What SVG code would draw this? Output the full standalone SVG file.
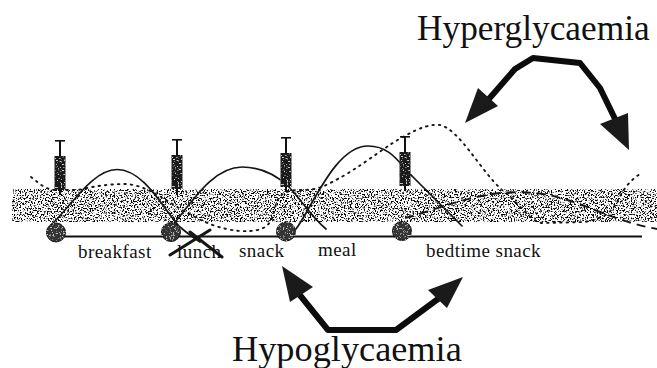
<svg xmlns="http://www.w3.org/2000/svg" width="657" height="368" viewBox="0 0 657 368">
<style>
.t{font-family:"Liberation Serif","Times New Roman",serif;fill:#111}
.big{font-size:35.300px}
.big2{font-size:36.300px}
.sm{font-size:19px;letter-spacing:.45px}
.c{fill:none;stroke:#151515;stroke-width:1.7;stroke-linecap:round;stroke-linejoin:round}
.dot{stroke-width:1.9;stroke-dasharray:1.5 5}
.dash{stroke-width:1.9;stroke-dasharray:9 6;stroke-linecap:butt}
.x{stroke-width:3}
.shaft{fill:none;stroke:#0c0c0c;stroke-width:6;stroke-linejoin:round}
.head{fill:#1a1a1a}
.mealdot{fill:#333;stroke:#111;stroke-width:1;filter:url(#g)}
.bar{fill:#111}
.s{fill:#1a1a1a;filter:url(#b)}
</style>
<defs>
<filter id="n" x="0" y="0" width="1" height="1" color-interpolation-filters="sRGB">
<feTurbulence type="fractalNoise" baseFrequency="0.7" numOctaves="2" seed="7" result="t"/>
<feColorMatrix in="t" type="matrix" values="0 0 0 0 0 0 0 0 0 0 0 0 0 0 0 9 0 0 0 -4.6"/>
<feComposite in2="SourceAlpha" operator="in"/>
</filter>
<filter id="g" x="-10%" y="-10%" width="120%" height="120%" color-interpolation-filters="sRGB">
<feTurbulence type="fractalNoise" baseFrequency="0.6" numOctaves="2" seed="3" result="t"/>
<feColorMatrix in="t" type="matrix" values="0 0 0 0 .75 0 0 0 0 .75 0 0 0 0 .75 9 0 0 0 -5.2" result="w"/>
<feComposite in="w" in2="SourceAlpha" operator="in" result="w2"/>
<feMerge><feMergeNode in="SourceGraphic"/><feMergeNode in="w2"/></feMerge>
</filter>
<filter id="b" x="-10%" y="-10%" width="120%" height="120%" color-interpolation-filters="sRGB">
<feTurbulence type="fractalNoise" baseFrequency="0.7" numOctaves="1" seed="11" result="t"/>
<feColorMatrix in="t" type="matrix" values="0 0 0 0 .8 0 0 0 0 .8 0 0 0 0 .8 9 0 0 0 -5.2" result="w"/>
<feComposite in="w" in2="SourceAlpha" operator="in" result="w2"/>
<feMerge><feMergeNode in="SourceGraphic"/><feMergeNode in="w2"/></feMerge>
</filter>
<g id="syr">
<rect class="bar" x="-5" y="0" width="10" height="1.600"/>
<rect class="bar" x="-1" y="0" width="2" height="17"/>
<rect class="s" x="-5.500" y="16" width="11" height="34"/>
<rect class="bar" x="-1" y="50" width="2" height="5"/>
</g>
</defs>
<rect id="background" width="657" height="368" fill="#fff"/>
<rect id="band" x="12" y="189" width="645" height="33" fill="#000" filter="url(#n)"/>
<g id="timeline"><path d="M62 236.500H642" stroke="#111" stroke-width="2" fill="none"/></g>
<g id="connectors">
<path class="c" d="M50 226C70 208 92 169.500 117 169.500C145 169.500 165 212 180 227Q188 234 200 242"/>
<path class="c" d="M172 226C190 205 212 167 242 167C262 167 276 175 288 186C300 198 312 218 326 229"/>
<path class="c" d="M296 229C312 208 335 146 368 146C392 146 400 165 412 176L462 226"/>
<path class="c dot" d="M31 177C40 184 46 190 56 190L78 190C95 186 110 184 125 184C150 185 170 205 195 217C215 228 235 232 250 231C268 230 272 222 275 208C278 195 284 190 300 190C320 190 325 186 345 175C370 160 390 143 405 136C420 127 432 124 440 125C460 130 480 170 502 190C515 198 530 222 542 223L585 222C605 218 612 212 618 200C624 188 632 178 642 173"/>
<path class="c dash" d="M405 218C430 212 460 198 500 193C540 190 560 196 600 212C620 220 640 226 657 229"/>
<path class="c x" d="M170 255L210 230M190 232L222 257"/>
</g>
<g id="meal-1"><circle class="mealdot" cx="56" cy="232.500" r="9.500"/></g>
<g id="meal-2"><circle class="mealdot" cx="171" cy="232" r="9.500"/></g>
<g id="meal-3"><circle class="mealdot" cx="286" cy="231.500" r="9.500"/></g>
<g id="meal-4"><circle class="mealdot" cx="402" cy="231" r="9.500"/></g>
<g id="syringe-1"><use href="#syr" x="60" y="140"/></g>
<g id="syringe-2"><use href="#syr" x="177" y="139"/></g>
<g id="syringe-3"><use href="#syr" x="286" y="137"/></g>
<g id="syringe-4"><use href="#syr" x="405" y="136"/></g>
<g id="hyper-arrow">
<path class="shaft" d="M488 100L515 69L533 58L580 63L600 88L618 125"/>
<path class="head" d="M465 123L478 88L498 106Z"/>
<path class="head" d="M629 150L600 124L628 113Z"/>
</g>
<g id="hypo-arrow">
<path class="shaft" d="M299 294L328 330H396L442 296"/>
<path class="head" d="M282 266L313 287L290 302Z"/>
<path class="head" d="M463 277L447 308L428 290Z"/>
</g>
<g id="labels">
<text class="t big" x="417" y="40">Hyperglycaemia</text>
<text class="t big2" x="232" y="361">Hypoglycaemia</text>
<text class="t sm" x="78" y="258">breakfast</text>
<text class="t sm" x="177" y="258">lunch</text>
<text class="t sm" x="239" y="257">snack</text>
<text class="t sm" x="318" y="256">meal</text>
<text class="t sm" x="426" y="257">bedtime snack</text>
</g>
</svg>
